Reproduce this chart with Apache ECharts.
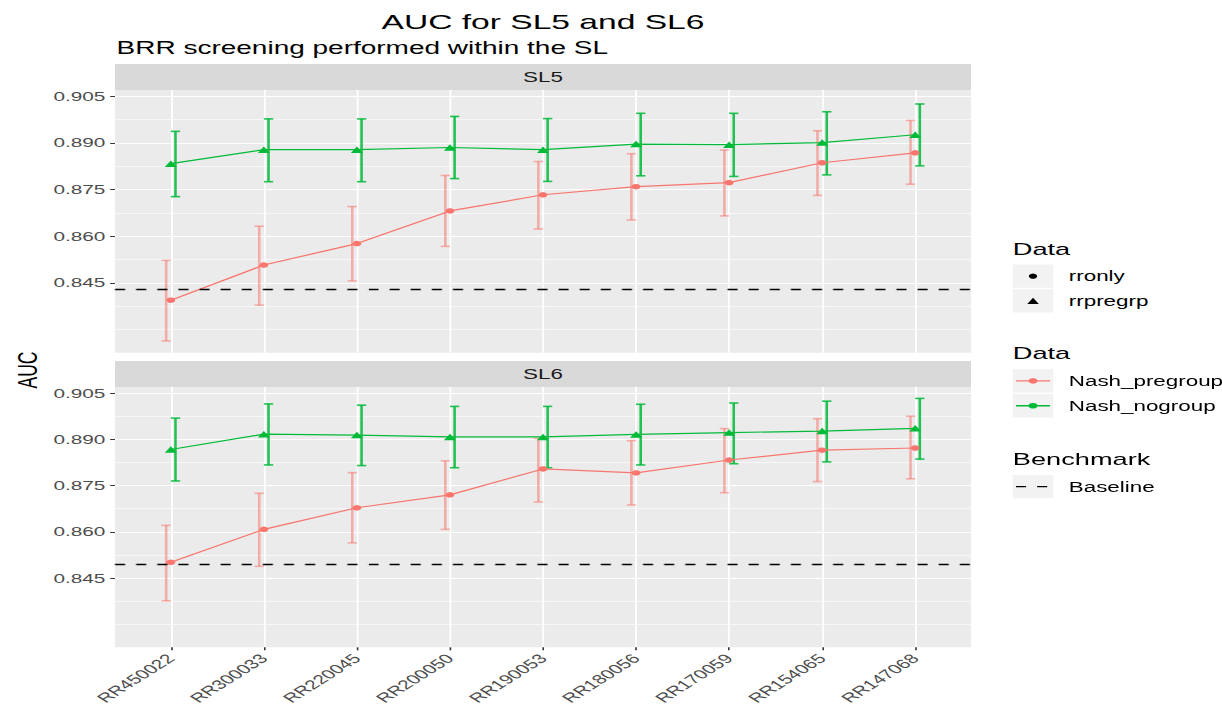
<!DOCTYPE html>
<html>
<head>
<meta charset="utf-8">
<script src="https://cdn.jsdelivr.net/npm/echarts@6/dist/echarts.min.js"></script>
<style>
  html, body { margin: 0; padding: 0; background: #ffffff; overflow: hidden; }
  #wrap { width: 1222px; height: 707px; overflow: hidden; position: relative; }
  #chart { width: 763.75px; height: 707px; transform: scaleX(1.6); transform-origin: 0 0; position: absolute; left: 0; top: 0; }
</style>
</head>
<body>
<div id="wrap"><div id="chart"></div></div>
<script>
// ---------- data ----------
const categories = ['RR450022','RR300033','RR220045','RR200050','RR190053','RR180056','RR170059','RR154065','RR147068'];
const yTickValues = [0.845, 0.860, 0.875, 0.890, 0.905];
const panelNames = ['SL5', 'SL6'];

// SL5
const sl5Pre   = [0.8394, 0.8507, 0.8576, 0.8681, 0.8733, 0.8759, 0.8772, 0.8836, 0.8868];
const sl5PreLo = [0.8263, 0.8378, 0.8456, 0.8567, 0.8623, 0.8652, 0.8665, 0.8731, 0.8767];
const sl5PreHi = [0.8522, 0.8632, 0.8695, 0.8795, 0.8840, 0.8865, 0.8877, 0.8939, 0.8972];
const sl5No    = [0.8833, 0.8878, 0.8878, 0.8885, 0.8878, 0.8896, 0.8894, 0.8901, 0.8926];
const sl5NoLo  = [0.8727, 0.8775, 0.8775, 0.8785, 0.8776, 0.8794, 0.8792, 0.8797, 0.8826];
const sl5NoHi  = [0.8937, 0.8977, 0.8977, 0.8985, 0.8978, 0.8995, 0.8995, 0.9000, 0.9025];
// SL6
const sl6Pre   = [0.8501, 0.8608, 0.8678, 0.8720, 0.8804, 0.8791, 0.8833, 0.8865, 0.8872];
const sl6PreLo = [0.8376, 0.8488, 0.8564, 0.8608, 0.8697, 0.8687, 0.8727, 0.8763, 0.8772];
const sl6PreHi = [0.8621, 0.8725, 0.8792, 0.8830, 0.8903, 0.8896, 0.8935, 0.8967, 0.8975];
const sl6No    = [0.8867, 0.8917, 0.8914, 0.8908, 0.8908, 0.8916, 0.8922, 0.8927, 0.8936];
const sl6NoLo  = [0.8765, 0.8817, 0.8815, 0.8808, 0.8808, 0.8817, 0.8821, 0.8827, 0.8836];
const sl6NoHi  = [0.8969, 0.9015, 0.9011, 0.9007, 0.9007, 0.9014, 0.9018, 0.9024, 0.9033];

const baselines = [0.8430, 0.8496];

// ---------- styling ----------
const FONT = "'Liberation Sans', Arial, Helvetica, sans-serif";
const RED = '#F8766D';
const GREEN = '#00BA38';
const PANEL_LEFT = 71.875, PANEL_W = 535;
const gridsPos = [{top: 90, height: 262.7}, {top: 387, height: 261.3}];
const Y_MIN = 0.8225, Y_MAX = 0.907;
const DODGE = 0.05;

const panels = [
  {pre: sl5Pre, preLo: sl5PreLo, preHi: sl5PreHi, no: sl5No, noLo: sl5NoLo, noHi: sl5NoHi},
  {pre: sl6Pre, preLo: sl6PreLo, preHi: sl6PreHi, no: sl6No, noLo: sl6NoLo, noHi: sl6NoHi}
];

function errRender(color) {
  return function (params, api) {
    const x = api.value(0), lo = api.value(1), hi = api.value(2);
    const pLo = api.coord([x, lo]);
    const pHi = api.coord([x, hi]);
    const half = api.coord([x + 0.05, lo])[0] - pLo[0];
    const st = {stroke: color, lineWidth: 1.6, fill: null};
    return {
      type: 'group',
      children: [
        {type: 'line', shape: {x1: pLo[0], y1: pLo[1], x2: pHi[0], y2: pHi[1]}, style: st},
        {type: 'line', shape: {x1: pLo[0] - half, y1: pLo[1], x2: pLo[0] + half, y2: pLo[1]}, style: st},
        {type: 'line', shape: {x1: pHi[0] - half, y1: pHi[1], x2: pHi[0] + half, y2: pHi[1]}, style: st}
      ]
    };
  };
}

const grids = [], xAxes = [], yAxes = [], series = [];
const catIdx = categories.map((c, i) => i);

panels.forEach((p, g) => {
  grids.push({left: PANEL_LEFT, width: PANEL_W, top: gridsPos[g].top, height: gridsPos[g].height,
              show: true, backgroundColor: '#EBEBEB', borderWidth: 0, containLabel: false});
  xAxes.push({
    type: 'value', gridIndex: g, min: -0.6, max: 8.6,
    axisLine: {show: false},
    axisTick: {show: g === 1, customValues: catIdx, length: 3, lineStyle: {color: '#333333', width: 1}},
    axisLabel: {show: g === 1, customValues: catIdx, rotate: 45, margin: 9,
                formatter: v => categories[Math.round(v)], color: '#4D4D4D', fontSize: 13, fontFamily: FONT},
    splitLine: {show: true, lineStyle: {color: '#FFFFFF', width: 1.1}}
  });
  // minor / all grid lines
  yAxes.push({
    type: 'value', gridIndex: g, min: Y_MIN, max: Y_MAX, interval: 0.0075,
    axisLine: {show: false}, axisTick: {show: false}, axisLabel: {show: false},
    splitLine: {show: true, showMinLine: false, showMaxLine: false, lineStyle: {color: '#F7F7F7', width: 0.8}}
  });
  // major lines + labels
  yAxes.push({
    type: 'value', gridIndex: g, min: Y_MIN, max: Y_MAX, position: 'left',
    axisLine: {show: false},
    axisTick: {show: true, customValues: yTickValues, length: 3, lineStyle: {color: '#333333', width: 1}},
    axisLabel: {show: true, customValues: yTickValues, formatter: v => v.toFixed(3), margin: 6,
                color: '#4D4D4D', fontSize: 13, fontFamily: FONT},
    splitLine: {show: true, lineStyle: {color: '#FFFFFF', width: 1.1}}
  });
  const ya = 2 * g;
  series.push({
    type: 'custom', xAxisIndex: g, yAxisIndex: ya, z: 3, silent: true,
    renderItem: errRender('rgba(248,118,109,0.55)'),
    encode: {x: 0, y: [1, 2]},
    data: catIdx.map(i => [i - DODGE, p.preLo[i], p.preHi[i]])
  });
  series.push({
    type: 'custom', xAxisIndex: g, yAxisIndex: ya, z: 3, silent: true,
    renderItem: errRender('rgba(0,186,56,0.85)'),
    encode: {x: 0, y: [1, 2]},
    data: catIdx.map(i => [i + DODGE, p.noLo[i], p.noHi[i]])
  });
  series.push({
    type: 'line', xAxisIndex: g, yAxisIndex: ya, z: 4, silent: true,
    data: catIdx.map(i => [i, p.pre[i]]),
    symbol: 'circle', symbolSize: 5.5, showSymbol: true,
    itemStyle: {color: RED}, lineStyle: {color: RED, width: 1.2},
    markLine: {
      silent: true, symbol: 'none', label: {show: false}, precision: 6,
      lineStyle: {color: '#000000', width: 1.3, type: [6.3, 6.9]},
      data: [{yAxis: baselines[g]}], animation: false
    }
  });
  series.push({
    type: 'line', xAxisIndex: g, yAxisIndex: ya, z: 4, silent: true,
    data: catIdx.map(i => [i, p.no[i]]),
    symbol: 'triangle', symbolSize: [7.5, 6.5], showSymbol: true,
    itemStyle: {color: GREEN}, lineStyle: {color: GREEN, width: 1.2}
  });
});

// ---------- text / strips / legend ----------
const CX = PANEL_LEFT + PANEL_W / 2;
const graphics = [
  {type: 'text', x: CX, y: 21.5, style: {text: 'AUC for SL5 and SL6', fontSize: 21, fontFamily: FONT, fill: '#000000', align: 'center', verticalAlign: 'middle'}},
  {type: 'text', x: PANEL_LEFT + 1, y: 48.5, style: {text: 'BRR screening performed within the SL', fontSize: 17.5, fontFamily: FONT, fill: '#000000', align: 'left', verticalAlign: 'middle'}},
  {type: 'text', x: 17, y: 370, rotation: Math.PI / 2, style: {text: 'AUC', fontSize: 17.5, fontFamily: FONT, fill: '#000000', align: 'center', verticalAlign: 'middle'}},
  {type: 'rect', shape: {x: PANEL_LEFT, y: 64, width: PANEL_W, height: 26}, style: {fill: '#D9D9D9'}},
  {type: 'rect', shape: {x: PANEL_LEFT, y: 361, width: PANEL_W, height: 26}, style: {fill: '#D9D9D9'}},
  {type: 'text', x: CX, y: 77, style: {text: panelNames[0], fontSize: 14, fontFamily: FONT, fill: '#1A1A1A', align: 'center', verticalAlign: 'middle'}},
  {type: 'text', x: CX, y: 374, style: {text: panelNames[1], fontSize: 14, fontFamily: FONT, fill: '#1A1A1A', align: 'center', verticalAlign: 'middle'}}
];
const LX = 633, KW = 25.3, KH = 23.3, TX = 668;
function legTitle(t, y) {
  graphics.push({type: 'text', x: LX, y: y, style: {text: t, fontSize: 17, fontFamily: FONT, fill: '#000000', align: 'left', verticalAlign: 'middle'}});
}
function legItem(label, yTop, key) {
  graphics.push({type: 'rect', shape: {x: LX, y: yTop, width: KW, height: KH}, style: {fill: '#F2F2F2'}});
  const cx = LX + KW / 2, cy = yTop + KH / 2;
  if (key === 'circle') {
    graphics.push({type: 'circle', shape: {cx: cx, cy: cy, r: 2.6}, style: {fill: '#000000'}});
  } else if (key === 'triangle') {
    graphics.push({type: 'polygon', shape: {points: [[cx - 3.6, cy + 3], [cx + 3.6, cy + 3], [cx, cy - 3.2]]}, style: {fill: '#000000'}});
  } else if (key === 'dash') {
    graphics.push({type: 'line', shape: {x1: LX + 2, y1: cy, x2: LX + KW - 2, y2: cy}, style: {stroke: '#000000', lineWidth: 1.3, lineDash: [6.3, 6.9]}});
  } else {
    graphics.push({type: 'line', shape: {x1: LX + 2, y1: cy, x2: LX + KW - 2, y2: cy}, style: {stroke: key, lineWidth: 1.3}});
    graphics.push({type: 'circle', shape: {cx: cx, cy: cy, r: 2.8}, style: {fill: key}});
  }
  graphics.push({type: 'text', x: TX, y: cy, style: {text: label, fontSize: 14, fontFamily: FONT, fill: '#000000', align: 'left', verticalAlign: 'middle'}});
}
legTitle('Data', 249);
legItem('rronly', 264.5, 'circle');
legItem('rrpregrp', 289.3, 'triangle');
legTitle('Data', 353.5);
legItem('Nash_pregroup', 369.3, RED);
legItem('Nash_nogroup', 394.1, GREEN);
legTitle('Benchmark', 459);
legItem('Baseline', 475, 'dash');

const chart = echarts.init(document.getElementById('chart'), null, {renderer: 'svg', width: 763.75, height: 707});
chart.setOption({
  animation: false,
  backgroundColor: '#FFFFFF',
  grid: grids,
  xAxis: xAxes,
  yAxis: yAxes,
  series: series,
  graphic: graphics
});
</script>
</body>
</html>
